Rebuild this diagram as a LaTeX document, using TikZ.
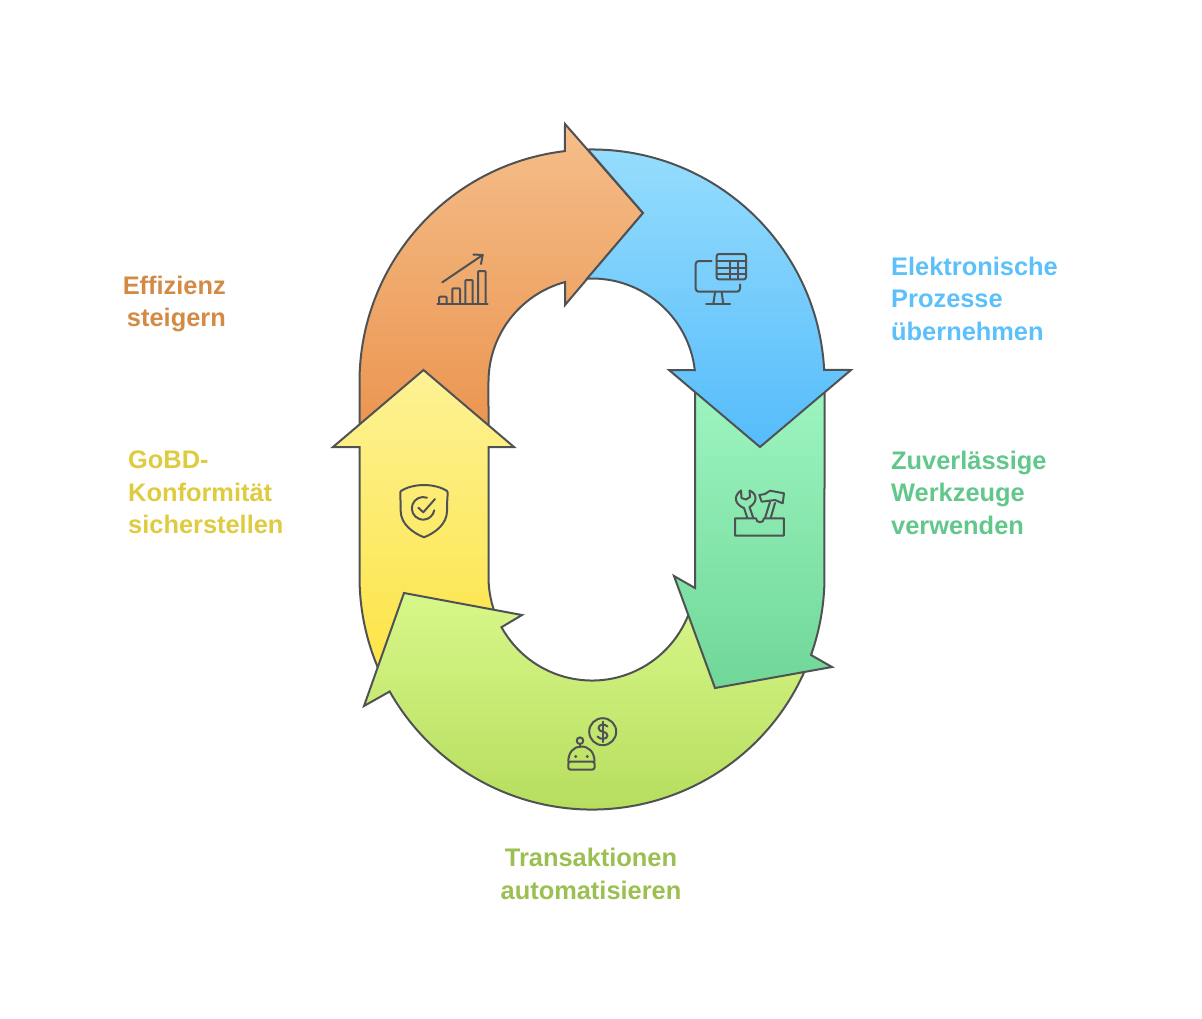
\documentclass[tikz,border=0pt]{standalone}
\usepackage{fontspec}
\setmainfont{Liberation Sans}

\definecolor{outline}{HTML}{4F5254}
\definecolor{orangetop}{HTML}{F5BE8A}
\definecolor{orangebot}{HTML}{EB9550}
\definecolor{yellowtop}{HTML}{FDF295}
\definecolor{yellowbot}{HTML}{FDE445}
\definecolor{limetop}{HTML}{D8F78A}
\definecolor{limebot}{HTML}{B2DA58}
\definecolor{greentop}{HTML}{9DF5C0}
\definecolor{greenbot}{HTML}{70D798}
\definecolor{bluetop}{HTML}{96DDFD}
\definecolor{bluebot}{HTML}{55BCFB}
\definecolor{orangetxt}{HTML}{D38A45}
\definecolor{yellowtxt}{HTML}{DFCB40}
\definecolor{limetxt}{HTML}{9BBF50}
\definecolor{greentxt}{HTML}{62C78B}
\definecolor{bluetxt}{HTML}{5CC0FA}

\tikzset{
  bigarrow/.style={draw=outline,line width=2pt,line join=miter},
  icon/.style={draw=outline,line width=2pt,line cap=round,line join=round},
  caption/.style={font=\fontsize{25.4}{32.5}\selectfont\bfseries,inner sep=0pt}
}

\begin{document}
\begin{tikzpicture}[x=1pt,y=1pt,yscale=-1]
\useasboundingbox (0,0) rectangle (1202,1018);

% big arrows, the blue one is notched round the orange head
\draw[bigarrow,top color=orangetop,bottom color=orangebot] (565,124)--(643,213)--(565,305)--(565.2,282)
  arc (-105:-180:103.5)--(488.5,430)--(359.5,430)--(359.5,382) arc (180:263.3:232.5)--cycle;

\draw[bigarrow,top color=yellowtop,bottom color=yellowbot] (423.5,370)--(514,447)--(488.5,447)--(488.5,577)
  arc (180:160:103.5)--(381.3,675.3) arc (155:180:232.5)--(359.5,447)--(333,447)--cycle;

\draw[bigarrow,top color=limetop,bottom color=limebot] (404,593)--(522,615)--(501.5,627.2)
  arc (151:15:103.5)--(807.6,664.1) arc (22:150.5:232.5)--(364,706)--cycle;

\draw[bigarrow,top color=greentop,bottom color=greenbot] (695,385)--(695,588)--(674,576)--(715,688)--(832,667)--(811,655)
  arc (19.6:0:232.5)--(824.5,385)--cycle;

\draw[bigarrow,top color=bluetop,bottom color=bluebot] (587.9,149.5) arc (-91:-3:232.5)--(851,370)--(760,447)--(669,370)--(694.8,370.1)
  arc (-6.6:-92.7:103.5)--(643,213)--cycle;

% chart
\draw[icon] (437.3,303.5)--(487.7,303.5);
\draw[icon,rounded corners=1pt] (439,303.5)--(439,296.7)--(446.7,296.7)--(446.7,303.5);
\draw[icon,rounded corners=1pt] (452.3,303.5)--(452.3,288.3)--(460,288.3)--(460,303.5);
\draw[icon,rounded corners=1pt] (465.3,303.5)--(465.3,280)--(472.7,280)--(472.7,303.5);
\draw[icon,rounded corners=1pt] (478,303.5)--(478,271)--(485.7,271)--(485.7,303.5);
\draw[icon] (442.3,282.3)--(482.7,255);
\draw[icon] (473.3,254.5)--(482.7,255)--(481,264);

% monitor
\draw[icon,rounded corners=3pt] (711.7,261)--(695.7,261)--(695.7,291.7)--(740,291.7)--(740,284.3);
\draw[icon] (706,304)--(730,304);
\draw[icon] (715,292.5)--(713.3,304);
\draw[icon] (721.7,292.5)--(723.3,304);
\draw[icon,rounded corners=2pt] (716.7,254) rectangle (746,279.3);
\draw[icon] (716.7,261)--(746,261);
\draw[icon] (716.7,267.5)--(746,267.5);
\draw[icon] (716.7,273.5)--(746,273.5);
\draw[icon] (730,261)--(730,279.3);
\draw[icon] (738.3,261)--(738.3,279.3);

% tools
\draw[icon] (735,518.3)--(756,518.3) arc (180:0:4)--(783.8,518.3)--(783.8,535.5)--(735,535.5)--cycle;
\draw[icon] (747.3,518)--(744,508) .. controls (736,505) and (732,497) .. (741,490.5)--(741.5,498)
  --(746,499.5)--(750,497)--(749.5,490.5) .. controls (758,494) and (757,503) .. (749.5,507)--(753.3,518);
\draw[icon] (759.3,495)--(765,494)--(770,490.7)--(784,493.3)--(782.7,503.3)--(775,500)--(761.7,501.7)--cycle;
\draw[icon] (770,502)--(765,518);
\draw[icon] (775,503)--(770.7,518);

% robot and dollar
\draw[icon] (602.7,731.7) circle (13.5);
\draw[icon] (607.5,726.5) .. controls (605,723.5) and (598.5,724) .. (598.5,728) .. controls (598.5,733) and (607.5,730.5) .. (607.5,735.5) .. controls (607.5,739.5) and (600,740) .. (597.5,736.5);
\draw[icon] (602.7,721.5)--(602.7,742);
\draw[icon] (580,740.7) circle (3.3);
\draw[icon] (580,744)--(580,747);
\draw[icon,rounded corners=2pt] (568.3,761.7)--(568.3,769.5)--(594.5,769.5)--(594.5,761.7)--cycle;
\draw[icon] (568.3,761.7) .. controls (568.3,752) and (574,746.5) .. (581,746.5) .. controls (589,746.5) and (594.5,752) .. (594.5,761.7);
\fill[outline] (575.7,756.5) circle (1.6) (587.3,756.5) circle (1.6);

% shield
\draw[icon] (424,485) .. controls (415,485) and (406,487.5) .. (401,491) .. controls (399.5,492) and (400.7,495) .. (400.7,511)
  .. controls (400.7,524) and (413,533) .. (424,537.3) .. controls (435,533) and (447,524) .. (447,511)
  .. controls (447,495) and (448.5,492) .. (447,491) .. controls (442,487.5) and (433,485) .. (424,485)--cycle;
\draw[icon] (427,497.7) arc (-70:-350:11.3);
\draw[icon] (418.3,507.7)--(423.3,512.3)--(435,499);

\node[caption,text=bluetxt,anchor=west,align=left] (elektronisch) at (891,298.5) {Elektronische\\Prozesse\\übernehmen};
\node[caption,text=greentxt,anchor=west,align=left] (werkzeuge) at (891,492.5) {Zuverlässige\\Werkzeuge\\verwenden};
\node[caption,text=limetxt,align=center] (transaktion) at (591,874) {Transaktionen\\automatisieren};
\node[caption,text=yellowtxt,anchor=west,align=left] (gobd) at (128,492.5) {GoBD-\\Konformität\\sicherstellen};
\node[caption,text=orangetxt,anchor=east,align=right] (effizienz) at (226,304) {Effizienz\\steigern};

\end{tikzpicture}
\end{document}
